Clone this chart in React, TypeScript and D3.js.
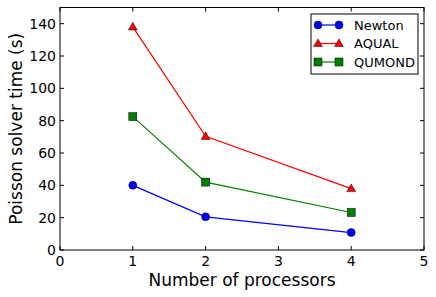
import { useEffect, useRef } from 'react'
import * as d3 from 'd3'

const processors = [1, 2, 4]
const newton = [40, 20.5, 10.8]
const aqual = [138, 70.3, 38]
const qumond = [82.5, 42, 23.2]
const xTicks = [0, 1, 2, 3, 4, 5]
const yTicks = [0, 20, 40, 60, 80, 100, 120, 140]

const series = [
  { name: 'Newton', values: newton, color: '#0000ff', marker: 'circle' },
  { name: 'AQUAL', values: aqual, color: '#ff0000', marker: 'triangle' },
  { name: 'QUMOND', values: qumond, color: '#008000', marker: 'square' },
]

export default function App() {
  const svgRef = useRef<SVGSVGElement>(null)

  useEffect(() => {
    if (!svgRef.current) return
    const svg = d3.select(svgRef.current)
    svg.selectAll('*').remove()

    const width = 436
    const height = 297
    const margin = { top: 7.5, right: 12, bottom: 47, left: 60 }
    const w = width - margin.left - margin.right
    const h = height - margin.top - margin.bottom
    const font = 'DejaVu Sans, sans-serif'

    svg.attr('width', width).attr('height', height)
    svg.append('rect').attr('width', width).attr('height', height).attr('fill', '#fff')

    const g = svg.append('g').attr('transform', `translate(${margin.left},${margin.top})`)

    const x = d3.scaleLinear().domain([0, 5]).range([0, w])
    const y = d3.scaleLinear().domain([0, 150]).range([h, 0])

    // inward ticks on all four sides
    const tk = 4
    xTicks.forEach(t => {
      g.append('line').attr('x1', x(t)).attr('x2', x(t)).attr('y1', h).attr('y2', h - tk).attr('stroke', '#000')
      g.append('line').attr('x1', x(t)).attr('x2', x(t)).attr('y1', 0).attr('y2', tk).attr('stroke', '#000')
      g.append('text')
        .attr('x', x(t)).attr('y', h + 16)
        .attr('text-anchor', 'middle')
        .style('font-family', font).style('font-size', '14px')
        .text(t)
    })
    yTicks.forEach(t => {
      g.append('line').attr('x1', 0).attr('x2', tk).attr('y1', y(t)).attr('y2', y(t)).attr('stroke', '#000')
      g.append('line').attr('x1', w).attr('x2', w - tk).attr('y1', y(t)).attr('y2', y(t)).attr('stroke', '#000')
      g.append('text')
        .attr('x', -4).attr('y', y(t)).attr('dy', '0.35em')
        .attr('text-anchor', 'end')
        .style('font-family', font).style('font-size', '14px')
        .text(t)
    })

    const line = d3.line<number>()
      .x((_, i) => x(processors[i]))
      .y(d => y(d))

    const drawMarker = (sel: d3.Selection<SVGGElement, unknown, null, undefined>, kind: string, cx: number, cy: number, color: string) => {
      if (kind === 'circle') {
        sel.append('circle').attr('cx', cx).attr('cy', cy).attr('r', 4)
          .attr('fill', color).attr('stroke', '#000').attr('stroke-width', 0.5)
      } else if (kind === 'square') {
        sel.append('rect').attr('x', cx - 4).attr('y', cy - 4).attr('width', 8).attr('height', 8)
          .attr('fill', color).attr('stroke', '#000').attr('stroke-width', 0.5)
      } else {
        sel.append('path').attr('d', d3.symbol(d3.symbolTriangle, 34)())
          .attr('transform', `translate(${cx},${cy + 0.5})`)
          .attr('fill', color).attr('stroke', '#000').attr('stroke-width', 0.5)
      }
    }

    series.forEach(s => {
      g.append('path').datum(s.values)
        .attr('d', line)
        .attr('fill', 'none')
        .attr('stroke', s.color)
        .attr('stroke-width', 1.2)
      const mg = g.append('g')
      s.values.forEach((v, i) => drawMarker(mg, s.marker, x(processors[i]), y(v), s.color))
    })

    g.append('rect').attr('width', w).attr('height', h)
      .attr('fill', 'none').attr('stroke', '#000').attr('stroke-width', 1)

    // legend
    const lg = svg.append('g').attr('transform', 'translate(311,14)')
    lg.append('rect').attr('width', 107).attr('height', 60)
      .attr('fill', '#fff').attr('stroke', '#000').attr('stroke-width', 1)
    series.forEach((s, i) => {
      const ly = 11 + i * 18.5
      lg.append('line').attr('x1', 7).attr('x2', 28).attr('y1', ly).attr('y2', ly)
        .attr('stroke', s.color).attr('stroke-width', 1.2)
      const mg = lg.append('g')
      drawMarker(mg, s.marker, 7, ly, s.color)
      drawMarker(mg, s.marker, 28, ly, s.color)
      lg.append('text').attr('x', 43).attr('y', ly).attr('dy', '0.35em')
        .style('font-family', font).style('font-size', '13px')
        .text(s.name)
    })

    svg.append('text')
      .attr('x', margin.left + w / 2).attr('y', 286)
      .attr('text-anchor', 'middle')
      .style('font-family', font).style('font-size', '17px')
      .text('Number of processors')

    svg.append('text')
      .attr('transform', `translate(22,${margin.top + h / 2}) rotate(-90)`)
      .attr('text-anchor', 'middle')
      .style('font-family', font).style('font-size', '17px')
      .text('Poisson solver time (s)')
  }, [])

  return (
    <div style={{ position: 'absolute', left: 0, top: 0 }}>
      <svg ref={svgRef} style={{ display: 'block' }} />
    </div>
  )
}
